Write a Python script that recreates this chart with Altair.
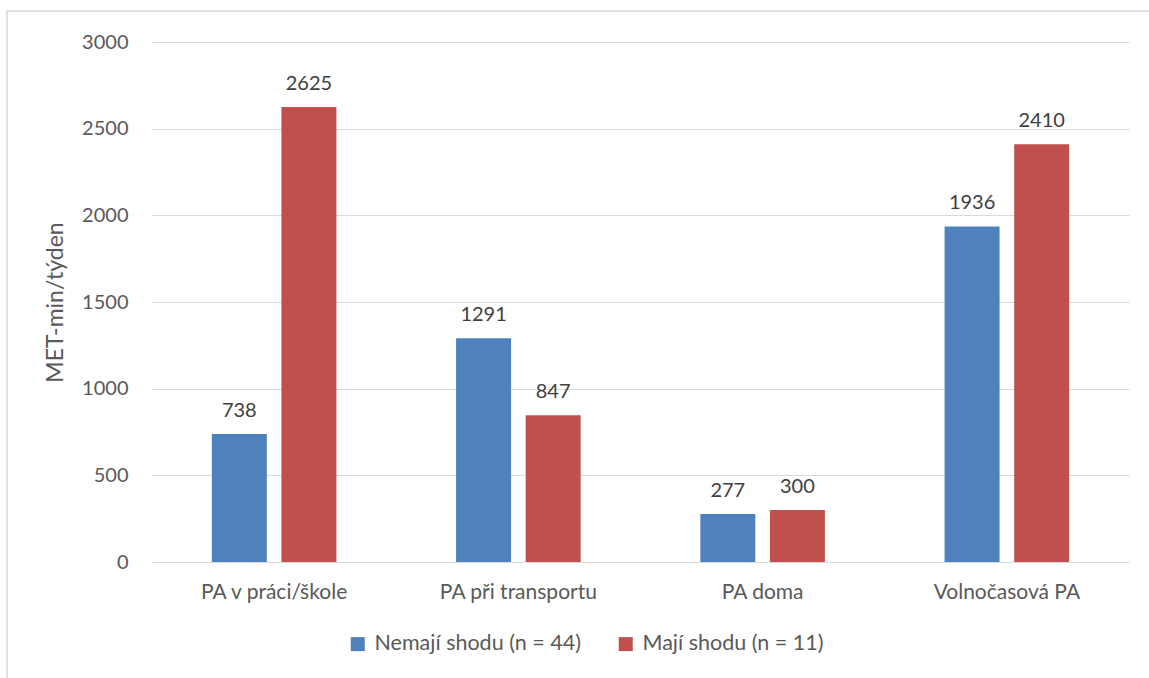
import altair as alt
import pandas as pd

categories = ["PA v práci/škole", "PA při transportu", "PA doma", "Volnočasová PA"]
series = ["Nemají shodu (n = 44)", "Mají shodu (n = 11)"]
nemaji = [738, 1291, 277, 1936]
maji = [2625, 847, 300, 2410]
colors = ["#4F81BD", "#C0504D"]
y_ticks = [0, 500, 1000, 1500, 2000, 2500, 3000]

rows = []
for i, cat in enumerate(categories):
    rows.append({"kategorie": cat, "skupina": series[0], "hodnota": nemaji[i]})
    rows.append({"kategorie": cat, "skupina": series[1], "hodnota": maji[i]})
df = pd.DataFrame(rows)

FONT = "Lato"
TXT = "#595959"

x_enc = alt.X(
    "kategorie:N",
    sort=categories,
    scale=alt.Scale(paddingInner=0.49, paddingOuter=0.245),
    axis=alt.Axis(
        title=None, labelAngle=0, ticks=False, domain=True, domainColor="#d9d9d9",
        labelFontSize=21, labelColor=TXT, labelFont=FONT, labelPadding=19,
    ),
)
xoff = alt.XOffset("skupina:N", sort=series, scale=alt.Scale(paddingInner=0.21))
y_enc = alt.Y(
    "hodnota:Q",
    scale=alt.Scale(domain=[0, 3000]),
    axis=alt.Axis(
        title="MET-min/týden", values=y_ticks, format="d", ticks=False, domain=False,
        gridColor="#d9d9d9", labelFontSize=20, labelColor=TXT, labelFont=FONT,
        labelPadding=24, titleFontSize=23, titleFont=FONT, titleColor=TXT,
        titleFontWeight="normal", titlePadding=14,
    ),
)

bars = alt.Chart(df).mark_bar().encode(
    x=x_enc,
    xOffset=xoff,
    y=y_enc,
    color=alt.Color(
        "skupina:N",
        sort=series,
        scale=alt.Scale(domain=series, range=colors),
        legend=alt.Legend(
            title=None, orient="none", direction="horizontal",
            legendX=195, legendY=591, symbolType="square", symbolSize=196,
            symbolStrokeWidth=0, labelFontSize=21.5, labelFont=FONT, labelColor=TXT,
            labelOffset=6, labelLimit=400,
        ),
    ),
)

labels = alt.Chart(df).mark_text(
    baseline="alphabetic", dy=-17, fontSize=20, font=FONT, color="#404040"
).encode(
    x=alt.X("kategorie:N", sort=categories),
    xOffset=alt.XOffset("skupina:N", sort=series),
    y="hodnota:Q",
    text="hodnota:Q",
)

frame = alt.Chart(pd.DataFrame({"k": [0]})).mark_rect(
    fill=None, stroke="#d9d9d9", strokeWidth=1.5
).encode(
    x=alt.value(-145), x2=alt.value(1020), y=alt.value(-31), y2=alt.value(660)
)

chart = alt.layer(frame, bars, labels).properties(
    width=977,
    height=520,
    autosize=alt.AutoSizeParams(type="none"),
    padding={"left": 152, "top": 42, "right": 20, "bottom": 116},
    background="white",
).configure_view(stroke=None).configure_legend(columnPadding=34)

chart.save("out.html", embed_options={"renderer": "svg", "actions": False})
